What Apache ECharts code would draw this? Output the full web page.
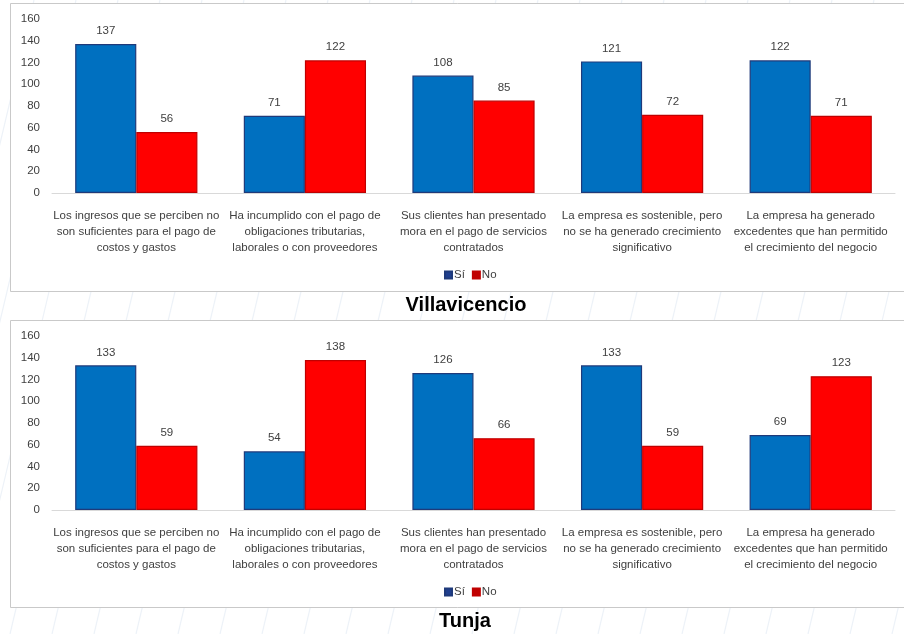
<!DOCTYPE html>
<html>
<head>
<meta charset="utf-8">
<script src="https://cdn.jsdelivr.net/npm/echarts@6/dist/echarts.min.js"></script>
<style>
  html, body { margin: 0; padding: 0; background: #ffffff; }
  #main { width: 904px; height: 634px; }
</style>
</head>
<body>
<div id="main"></div>
<script>
// categorias (mismas en ambos graficos)
var categorias = [
  "Los ingresos que se perciben no\nson suficientes para el pago de\ncostos y gastos",
  "Ha incumplido con el pago de\nobligaciones tributarias,\nlaborales o con proveedores",
  "Sus clientes han presentado\nmora en el pago de servicios\ncontratados",
  "La empresa es sostenible, pero\nno se ha generado crecimiento\nsignificativo",
  "La empresa ha generado\nexcedentes que han permitido\nel crecimiento del negocio"
];
// Villavicencio
var villaSi = [137, 71, 108, 121, 122];
var villaNo = [56, 122, 85, 72, 71];
// Tunja
var tunjaSi = [133, 54, 126, 133, 69];
var tunjaNo = [59, 138, 66, 59, 123];
var yTicks = { min: 0, max: 160, interval: 20 };

var FONT = "Liberation Sans";
var txt = "#404040";

var myChart = echarts.init(document.getElementById("main"));

function xAxisCfg(idx) {
  return {
    type: "category",
    gridIndex: idx,
    data: categorias,
    axisLine: { lineStyle: { color: "#d9d9d9", width: 1 } },
    axisTick: { show: false },
    axisLabel: {
      interval: 0,
      margin: 15,
      color: txt,
      fontFamily: FONT,
      fontSize: 11.5,
      lineHeight: 16
    }
  };
}
function yAxisCfg(idx) {
  return {
    type: "value",
    gridIndex: idx,
    min: yTicks.min,
    max: yTicks.max,
    interval: yTicks.interval,
    axisLine: { show: false },
    axisTick: { show: false },
    splitLine: { show: false },
    axisLabel: { color: txt, fontFamily: FONT, fontSize: 11.5, margin: 12 }
  };
}
function barSerie(name, data, idx, fill, border) {
  return {
    name: name,
    type: "bar",
    xAxisIndex: idx,
    yAxisIndex: idx,
    data: data,
    barGap: "0%",
    barCategoryGap: "27.5%",
    itemStyle: { color: fill, borderColor: border, borderWidth: 1.2 },
    label: {
      show: true,
      position: "top",
      distance: 7,
      color: txt,
      fontFamily: FONT,
      fontSize: 11.5
    }
  };
}
function legendCfg(top) {
  return {
    left: 439, top: top,
    icon: "rect",
    itemWidth: 7, itemHeight: 7, itemGap: 7,
    textStyle: { color: txt, fontFamily: FONT, fontSize: 11.5, padding: [0, 0, 0, -3] },
    data: [
      { name: "Sí", itemStyle: { color: "#1f3f8f" } },
      { name: "No", itemStyle: { color: "#c00000" } }
    ]
  };
}

// lineas decorativas del fondo
var deco = [];
for (var k = -200; k < 1100; k += 42) {
  deco.push({
    type: "line",
    z: -20,
    shape: { x1: k, y1: 634, x2: k + 150, y2: 0 },
    style: { stroke: "#edf2f8", lineWidth: 1.2 }
  });
}

var option = {
  backgroundColor: "#ffffff",
  animation: false,
  grid: [
    { left: 52, right: 9, top: 19, height: 174 },
    { left: 52, right: 9, top: 336, height: 174 }
  ],
  xAxis: [xAxisCfg(0), xAxisCfg(1)],
  yAxis: [yAxisCfg(0), yAxisCfg(1)],
  legend: [legendCfg(264), legendCfg(581)],
  graphic: deco.concat([
    {
      type: "rect", z: -10,
      shape: { x: 10.5, y: 3.5, width: 910, height: 288 },
      style: { fill: "#ffffff", stroke: "#c9c9c9", lineWidth: 1 }
    },
    {
      type: "rect", z: -10,
      shape: { x: 10.5, y: 320.5, width: 910, height: 287 },
      style: { fill: "#ffffff", stroke: "#c9c9c9", lineWidth: 1 }
    },
    {
      type: "text", z: 10,
      style: {
        text: "Villavicencio", x: 466, y: 305,
        textAlign: "center", textVerticalAlign: "middle",
        font: "bold 20px " + FONT, fill: "#000000"
      }
    },
    {
      type: "text", z: 10,
      style: {
        text: "Tunja", x: 465, y: 621,
        textAlign: "center", textVerticalAlign: "middle",
        font: "bold 20px " + FONT, fill: "#000000"
      }
    }
  ]),
  series: [
    barSerie("Sí", villaSi, 0, "#0070c0", "#1f3a7a"),
    barSerie("No", villaNo, 0, "#ff0000", "#c00000"),
    barSerie("Sí", tunjaSi, 1, "#0070c0", "#1f3a7a"),
    barSerie("No", tunjaNo, 1, "#ff0000", "#c00000")
  ]
};

myChart.setOption(option, true);
</script>
</body>
</html>
